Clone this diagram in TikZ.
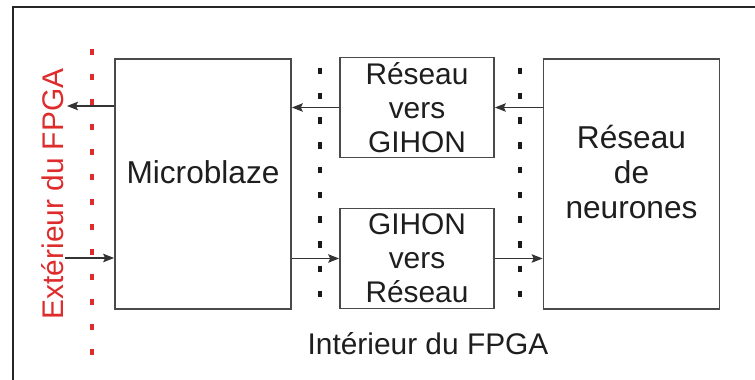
\documentclass[tikz,border=0pt]{standalone}
\usepackage{fontspec}
\setmainfont{Liberation Sans}
\usepackage{tikz}
\usetikzlibrary{arrows.meta}
\definecolor{fpgared}{HTML}{DE2B2B}
\definecolor{boxgray}{HTML}{4A4A4A}
\definecolor{darktext}{HTML}{1E1E1E}
\tikzset{
  frameline/.style={black!85, line width=1.1pt},
  blockbox/.style={draw=boxgray, line width=1pt, inner sep=0pt, align=center, font=\fontsize{17}{19.4}\selectfont, text=darktext},
  bigbox/.style={blockbox, minimum width=3.52cm, minimum height=5cm},
  smallbox/.style={blockbox, minimum width=3.08cm, minimum height=2cm},
  boxtext/.style={font=\fontsize{18}{19.8}\selectfont, text=darktext, align=center, yshift=0.24cm},
  labeltext/.style={font=\fontsize{17}{19.4}\selectfont},
  flow/.style={black!80, -{Stealth[length=2.2mm,width=1.7mm,inset=0.4mm]}, line width=0.6pt},
  limitline/.style={black!90, line width=2pt, dash pattern=on 0.13cm off 0.365cm},
  redlimit/.style={limitline, fpgared, dash pattern=on 0.13cm off 0.37cm}
}
\begin{document}
\begin{tikzpicture}
  \useasboundingbox (0,0) rectangle (15.1,7.6);
  \draw[frameline] (0.26,0) -- (0.26,7.46) -- (15.1,7.46);
  \node[bigbox, label={[boxtext]center:Microblaze}] (mb) at (4.06,3.92) {};
  \node[smallbox] (rvg) at (8.34,5.45) {Réseau\\vers\\GIHON};
  \node[smallbox] (gvr) at (8.34,2.43) {GIHON\\vers\\Réseau};
  \node[bigbox, label={[boxtext]center:{Réseau\\de\\neurones}}] (nr) at (12.63,3.92) {};
  \draw[redlimit] (1.84,6.62) -- (1.84,0.45);
  \draw[limitline] (6.40,6.24) -- (6.40,1.62);
  \draw[limitline] (10.40,6.24) -- (10.40,1.62);
  \coordinate (extout) at (1.34,5.48);
  \coordinate (extin) at (1.30,2.44);
  \draw[flow] (mb.west |- extout) -- (extout);
  \draw[flow] (extin) -- (extin -| mb.west);
  \draw[flow] (rvg.west) -- (rvg.west -| mb.east);
  \draw[flow] (nr.west |- rvg.east) -- (rvg.east);
  \draw[flow] (gvr.west -| mb.east) -- (gvr.west);
  \draw[flow] (gvr.east) -- (gvr.east -| nr.west);
  \node[labeltext, text=fpgared, rotate=90, anchor=base] (ext) at (1.26,3.72) {Extérieur du FPGA};
  \node[labeltext, text=darktext, anchor=base] (int) at (8.56,0.5) {Intérieur du FPGA};
\end{tikzpicture}
\end{document}
